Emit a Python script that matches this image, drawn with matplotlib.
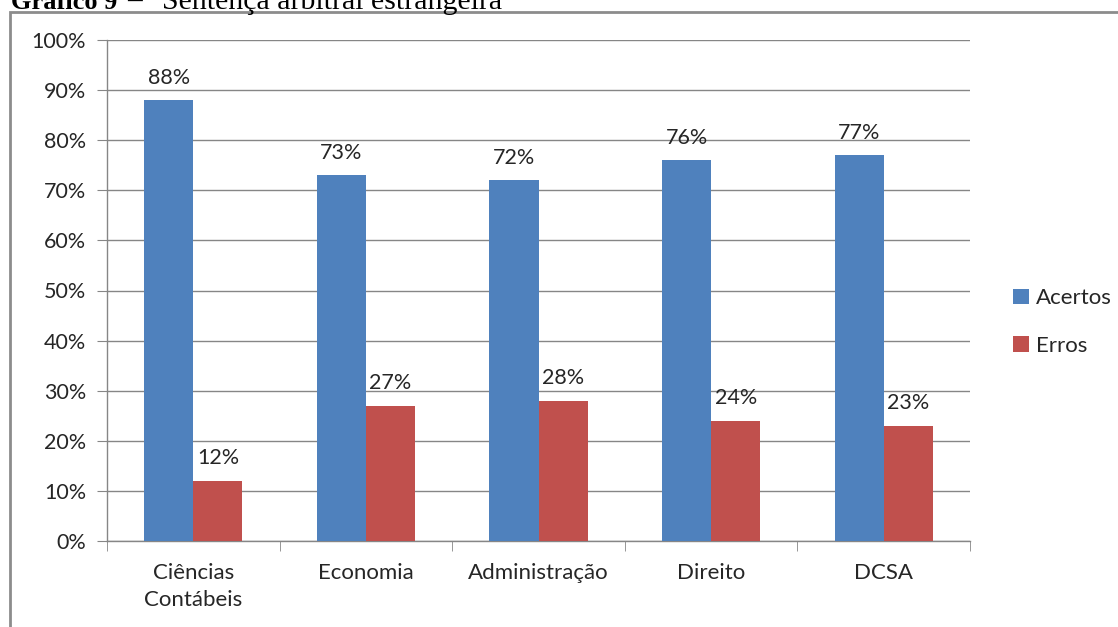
import matplotlib
matplotlib.use("Agg")
import matplotlib.pyplot as plt
from matplotlib.patches import Rectangle
import numpy as np

categories = ["Ciências\nContábeis", "Economia", "Administração", "Direito", "DCSA"]
acertos = [88, 73, 72, 76, 77]
erros = [12, 27, 28, 24, 23]
series_names = ["Acertos", "Erros"]
yticks = [0, 10, 20, 30, 40, 50, 60, 70, 80, 90, 100]

BLUE = "#4f81bd"
RED = "#c0504d"
GRID = "#868686"
TEXT = "#262626"
FS = 15.5
FS_X = 16

plt.rcParams["font.family"] = ["Lato", "DejaVu Sans"]

W, H = 1118, 627
fig = plt.figure(figsize=(W / 100, H / 100), dpi=100)
ax = fig.add_axes([107 / W, 1 - 541 / H, (970 - 107) / W, (541 - 40) / H])

x = np.arange(len(categories))
w = 0.285
b1 = ax.bar(x - w / 2, acertos, w, color=BLUE, label=series_names[0], zorder=3)
b2 = ax.bar(x + w / 2, erros, w, color=RED, label=series_names[1], zorder=3)

for bars, vals in ((b1, acertos), (b2, erros)):
    for rect, v in zip(bars, vals):
        ax.annotate(f"{v}%", (rect.get_x() + rect.get_width() / 2, v),
                    xytext=(0, 9), textcoords="offset points",
                    ha="center", va="bottom", fontsize=FS, color=TEXT)

ax.set_xlim(-0.5, len(categories) - 0.5)
ax.set_ylim(0, 100)
ax.set_yticks(yticks)
ax.set_yticklabels([f"{t}%" for t in yticks])
ax.set_xticks(x)
ax.set_xticklabels(categories, linespacing=1.45)
ax.set_xticks(np.arange(len(categories) + 1) - 0.5, minor=True)
ax.tick_params(axis="x", which="major", length=0, pad=16, labelsize=FS_X, labelcolor=TEXT)
ax.tick_params(axis="x", which="minor", length=7, color=GRID, direction="out")
ax.tick_params(axis="y", length=7, color=GRID, labelsize=FS, labelcolor=TEXT, pad=8)

ax.grid(axis="y", color=GRID, linewidth=1.0, zorder=0)
for side in ("top", "right"):
    ax.spines[side].set_visible(False)
for side in ("left", "bottom"):
    ax.spines[side].set_color(GRID)
    ax.spines[side].set_linewidth(1.0)

leg = fig.legend(handles=[b1, b2], labels=series_names, loc="center left",
                 bbox_to_anchor=(993 / W, 1 - 322 / H), frameon=False,
                 fontsize=FS_X, handlelength=0.7, handleheight=0.7,
                 handletextpad=0.35, labelspacing=1.25)
for t in leg.get_texts():
    t.set_color(TEXT)

# outer frame around the chart
fig.patches.append(Rectangle((10 / W, -0.1), 1.2, 1 - 12 / H + 0.1,
                             transform=fig.transFigure, fill=False,
                             edgecolor="#8c8c8c", linewidth=2.0))

# caption partly above the frame
base_y = 1 - 9 / H
fig.text(11 / W, base_y, "Gráfico 9", family="Liberation Serif",
         fontweight="bold", fontsize=19, va="baseline", ha="left")
fig.text(127 / W, base_y, "–", family="Liberation Serif",
         fontsize=21, va="baseline", ha="left")
fig.text(162 / W, base_y, "Sentença arbitral estrangeira",
         family="Liberation Serif", fontsize=21.5, va="baseline", ha="left")

fig.savefig("out.png", dpi=100)
